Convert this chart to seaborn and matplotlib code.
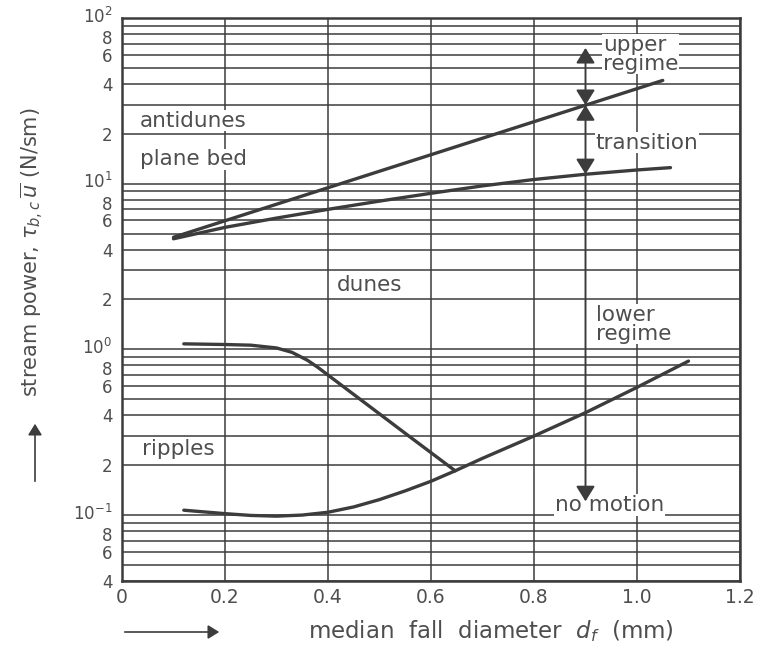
import matplotlib
matplotlib.use("Agg")
import matplotlib.pyplot as plt
from matplotlib.patches import ArrowStyle, FancyArrowPatch
from matplotlib.ticker import FixedLocator, NullFormatter
from matplotlib.transforms import ScaledTranslation
import numpy as np
import pandas as pd
import seaborn as sns

# Bed-form regime boundaries: median fall diameter (mm) vs stream power (N/sm)
upper_x = [0.10, 1.05]
upper_y = [4.75, 42.0]

transition_x = [0.10, 0.20, 0.30, 0.40, 0.50, 0.60, 0.70, 0.80, 0.90, 1.00, 1.065]
transition_y = [4.65, 5.45, 6.2, 7.0, 7.85, 8.75, 9.7, 10.6, 11.4, 12.1, 12.5]

dunes_x = [0.12, 0.20, 0.25, 0.30, 0.33, 0.36, 0.38, 0.40, 0.44, 0.50, 0.56, 0.60, 0.647]
dunes_y = [1.08, 1.07, 1.06, 1.02, 0.96, 0.86, 0.78, 0.70, 0.564, 0.408, 0.295, 0.238, 0.185]

motion_x = [0.12, 0.20, 0.25, 0.30, 0.35, 0.40, 0.45, 0.50, 0.55, 0.60, 0.647,
            0.70, 0.80, 0.90, 1.00, 1.10]
motion_y = [0.107, 0.102, 0.0995, 0.0985, 0.100, 0.104, 0.112, 0.124, 0.140,
            0.160, 0.185, 0.220, 0.300, 0.415, 0.590, 0.850]

# Regime arrows at d_f = 0.9 mm
arrow_x = 0.9
arrow_top = 66.0
arrow_upper = 29.8
arrow_lower = 11.4
arrow_bottom = 0.121

# Axis ticks
x_ticks = [0.0, 0.2, 0.4, 0.6, 0.8, 1.0, 1.2]
x_tick_labels = ["0", "0.2", "0.4", "0.6", "0.8", "1.0", "1.2"]
y_ticks = [0.04, 0.06, 0.08, 0.1, 0.2, 0.4, 0.6, 0.8, 1, 2, 4, 6, 8,
           10, 20, 40, 60, 80, 100]
y_tick_labels = ["4", "6", "8", "$10^{-1}$", "2", "4", "6", "8", "$10^{0}$",
                 "2", "4", "6", "8", "$10^{1}$", "2", "4", "6", "8", "$10^{2}$"]

# Region labels
regions = pd.DataFrame({
    "label": ["antidunes", "plane bed", "dunes", "ripples", "upper\nregime",
              "transition", "lower\nregime", "no motion"],
    "x": [0.035, 0.035, 0.417, 0.039, 0.934, 0.920, 0.920, 0.841],
    "y": [24.0, 14.0, 2.43, 0.25, 60.5, 17.7, 1.42, 0.115],
})

sns.set_style("white")
ink = "#3c3c3c"
text_col = "#4e4e4e"
plt.rcParams["font.family"] = ["DejaVu Sans"]
plt.rcParams["mathtext.fontset"] = "dejavusans"

fig = plt.figure(figsize=(7.61, 6.46), dpi=100)
ax = fig.add_axes([122 / 761, 1 - 581 / 646, 618 / 761, 563 / 646])
ax.set_yscale("log")
ax.set_xlim(0, 1.2)
ax.set_ylim(0.04, 100)

# grid: every 1..9 multiple on the log axis, 0.2 mm steps on x
minor = [m * 10.0 ** e for e in range(-2, 3) for m in range(1, 10)]
minor = [v for v in minor if 0.04 <= v <= 100]
ax.yaxis.set_minor_locator(FixedLocator(minor))
ax.yaxis.set_minor_formatter(NullFormatter())
ax.set_yticks(y_ticks)
ax.set_yticklabels(y_tick_labels)
ax.set_xticks(x_ticks)
ax.set_xticklabels(x_tick_labels)
ax.grid(True, which="both", axis="y", color=ink, linewidth=1.1, zorder=1)
ax.grid(True, which="major", axis="x", color=ink, linewidth=1.1, zorder=1)
ax.set_axisbelow(True)
ax.tick_params(which="both", length=0, colors=text_col)
ax.tick_params(axis="y", labelsize=12, pad=7)
ax.tick_params(axis="x", labelsize=13.5, pad=5)
for s in ax.spines.values():
    s.set_color(ink)
    s.set_linewidth(1.8)

# nudge the decade labels up and the "8" labels down so they sit apart
for lab in ax.get_yticklabels():
    txt = lab.get_text()
    if txt.startswith("$10"):
        shift = ScaledTranslation(0, 2.5 / 72, fig.dpi_scale_trans)
    elif txt == "8":
        shift = ScaledTranslation(0, -2.2 / 72, fig.dpi_scale_trans)
    else:
        continue
    lab.set_transform(lab.get_transform() + shift)

for xs, ys in [(upper_x, upper_y), (transition_x, transition_y),
               (dunes_x, dunes_y), (motion_x, motion_y)]:
    sns.lineplot(x=xs, y=ys, ax=ax, color=ink, linewidth=2.4,
                 estimator=None, sort=False, zorder=4)

head = ArrowStyle("-|>", head_length=0.42, head_width=0.26)
both = ArrowStyle("<|-|>", head_length=0.42, head_width=0.26)
arrow_kw = dict(color=ink, lw=1.4, shrinkA=0, shrinkB=0, mutation_scale=22)
ax.annotate("", xy=(arrow_x, arrow_top), xytext=(arrow_x, arrow_upper),
            arrowprops=dict(arrowstyle=both, **arrow_kw), zorder=5)
ax.annotate("", xy=(arrow_x, arrow_lower), xytext=(arrow_x, arrow_upper),
            arrowprops=dict(arrowstyle=both, **arrow_kw), zorder=5)
ax.annotate("", xy=(arrow_x, arrow_bottom), xytext=(arrow_x, arrow_lower),
            arrowprops=dict(arrowstyle=head, **arrow_kw), zorder=5)

for _, r in regions.iterrows():
    ax.text(r["x"], r["y"], r["label"], ha="left", va="center", fontsize=15.5,
            color=text_col, linespacing=0.92, zorder=3,
            bbox=dict(facecolor="white", edgecolor="none", pad=0.5))

ax.set_xlabel("")
ax.set_ylabel("")

# axis titles with direction arrows
fig.text(491 / 761, 1 - 631 / 646, "median  fall  diameter  $d_f$  (mm)",
         ha="center", va="center", fontsize=16.5, color=text_col)
fig.add_artist(FancyArrowPatch((122 / 761, 1 - 632 / 646), (222 / 761, 1 - 632 / 646),
                               transform=fig.transFigure, arrowstyle=head,
                               mutation_scale=16, color=ink, lw=1.2))
fig.text(32 / 761, 1 - 252 / 646,
         r"stream power, $\tau_{b,c}\,\overline{u}$ (N/sm)",
         ha="center", va="center", rotation=90, fontsize=15, color=text_col)
fig.add_artist(FancyArrowPatch((35 / 761, 1 - 484 / 646), (35 / 761, 1 - 421 / 646),
                               transform=fig.transFigure, arrowstyle=head,
                               mutation_scale=16, color=ink, lw=1.2))

fig.savefig("out.png", dpi=100, facecolor="white")
